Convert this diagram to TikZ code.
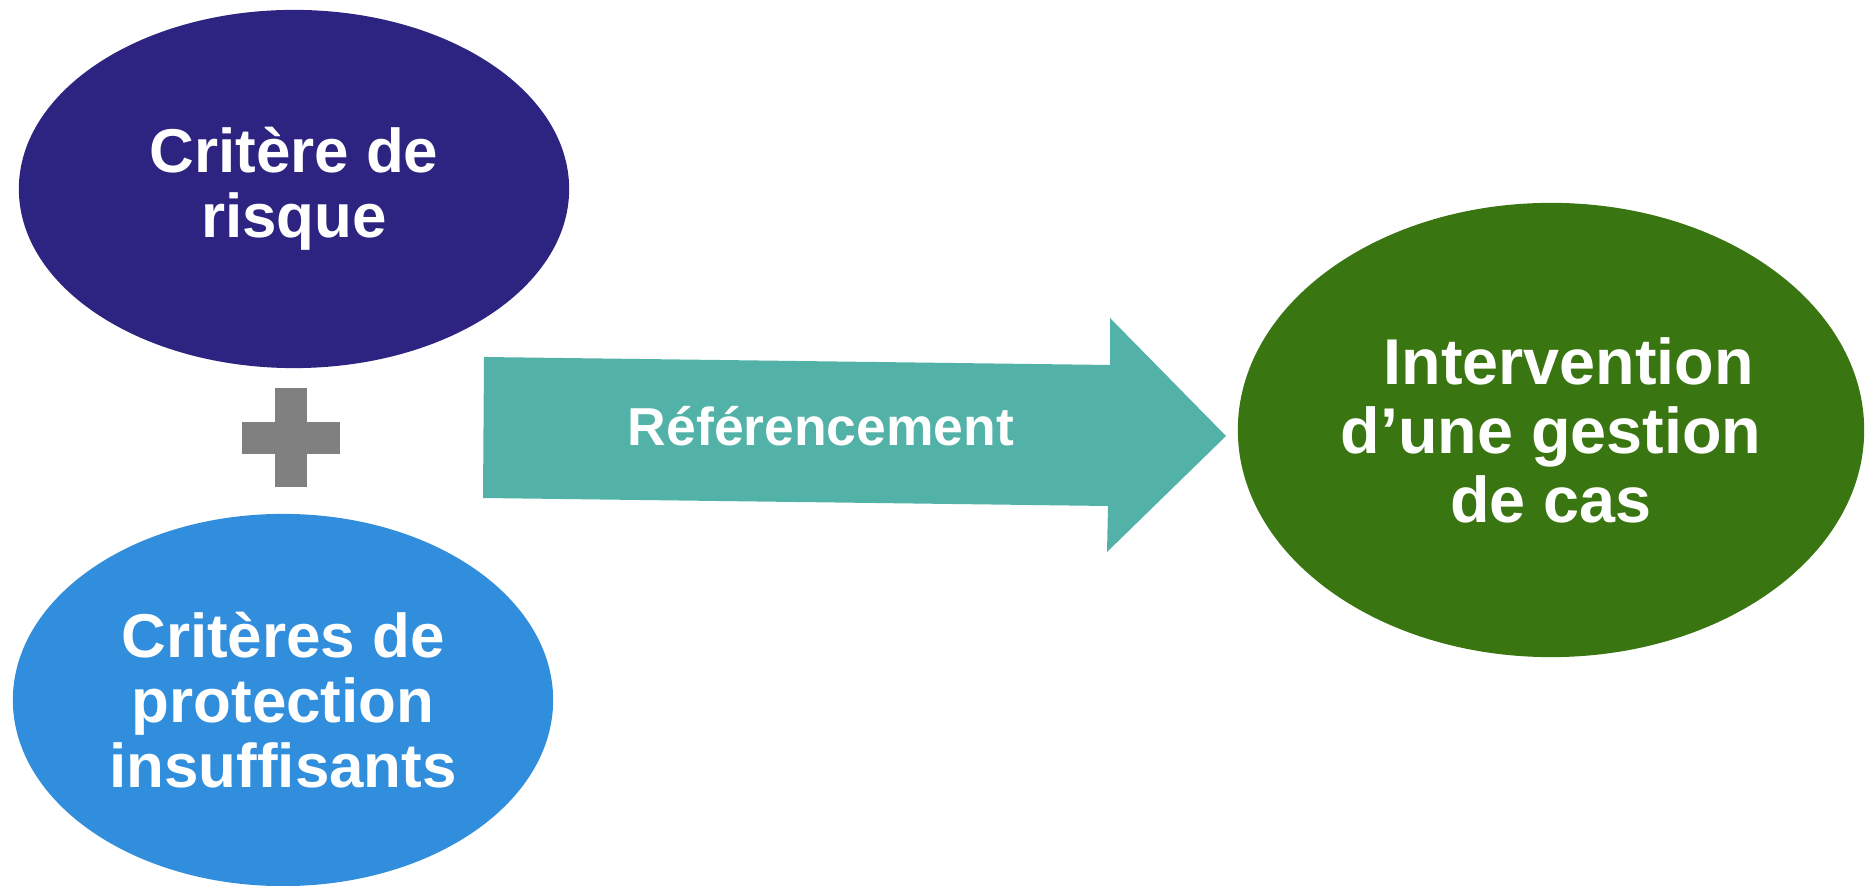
\documentclass[tikz,border=0pt]{standalone}
\usepackage{fontspec}
\setmainfont{Liberation Sans}
\usepackage{xcolor}
\usetikzlibrary{shapes.geometric}
\definecolor{riskblue}{HTML}{2C2480}
\definecolor{protblue}{HTML}{318EDD}
\definecolor{casegreen}{HTML}{397510}
\definecolor{refteal}{HTML}{53B2A8}
\definecolor{plusgray}{HTML}{808080}

\begin{document}
\begin{tikzpicture}[
  x=0.01cm, y=-0.01cm,
  every node/.style={text=white},
  critblob/.style={ellipse, inner sep=0pt, align=center,
                   font={\fontsize{17.6}{18.5}\selectfont\bfseries}},
  caseblob/.style={ellipse, fill=casegreen, inner sep=0pt, align=center,
                   font={\fontsize{18.4}{19.6}\selectfont\bfseries}},
  reflabel/.style={font={\fontsize{15.2}{18}\selectfont\bfseries}}
]
  \useasboundingbox (0,0) rectangle (1870,886);

  \node[critblob, fill=riskblue, minimum width=5.50cm, minimum height=3.58cm]
    (risk) at (294,189) {Critère de\\risque};
  \node[critblob, fill=protblue, minimum width=5.40cm, minimum height=3.72cm]
    (prot) at (283,700) {Critères de\\protection\\insuffisants};
  \node[caseblob, minimum width=6.26cm, minimum height=4.54cm]
    (case) at (1551,430) {\hspace*{0.55em}Intervention\\d’une gestion\\de cas};

  % plus sign
  \fill[plusgray] (275,388) rectangle (307,487);
  \fill[plusgray] (242,422) rectangle (340,454);

  % block arrow
  \fill[refteal] (484,357) -- (1110,365) -- (1110,318) -- (1226,436)
    -- (1107,552) -- (1108,506) -- (483,498) -- cycle;
  \node[reflabel, anchor=base] (ref) at (821,446) {Référencement};
\end{tikzpicture}
\end{document}
